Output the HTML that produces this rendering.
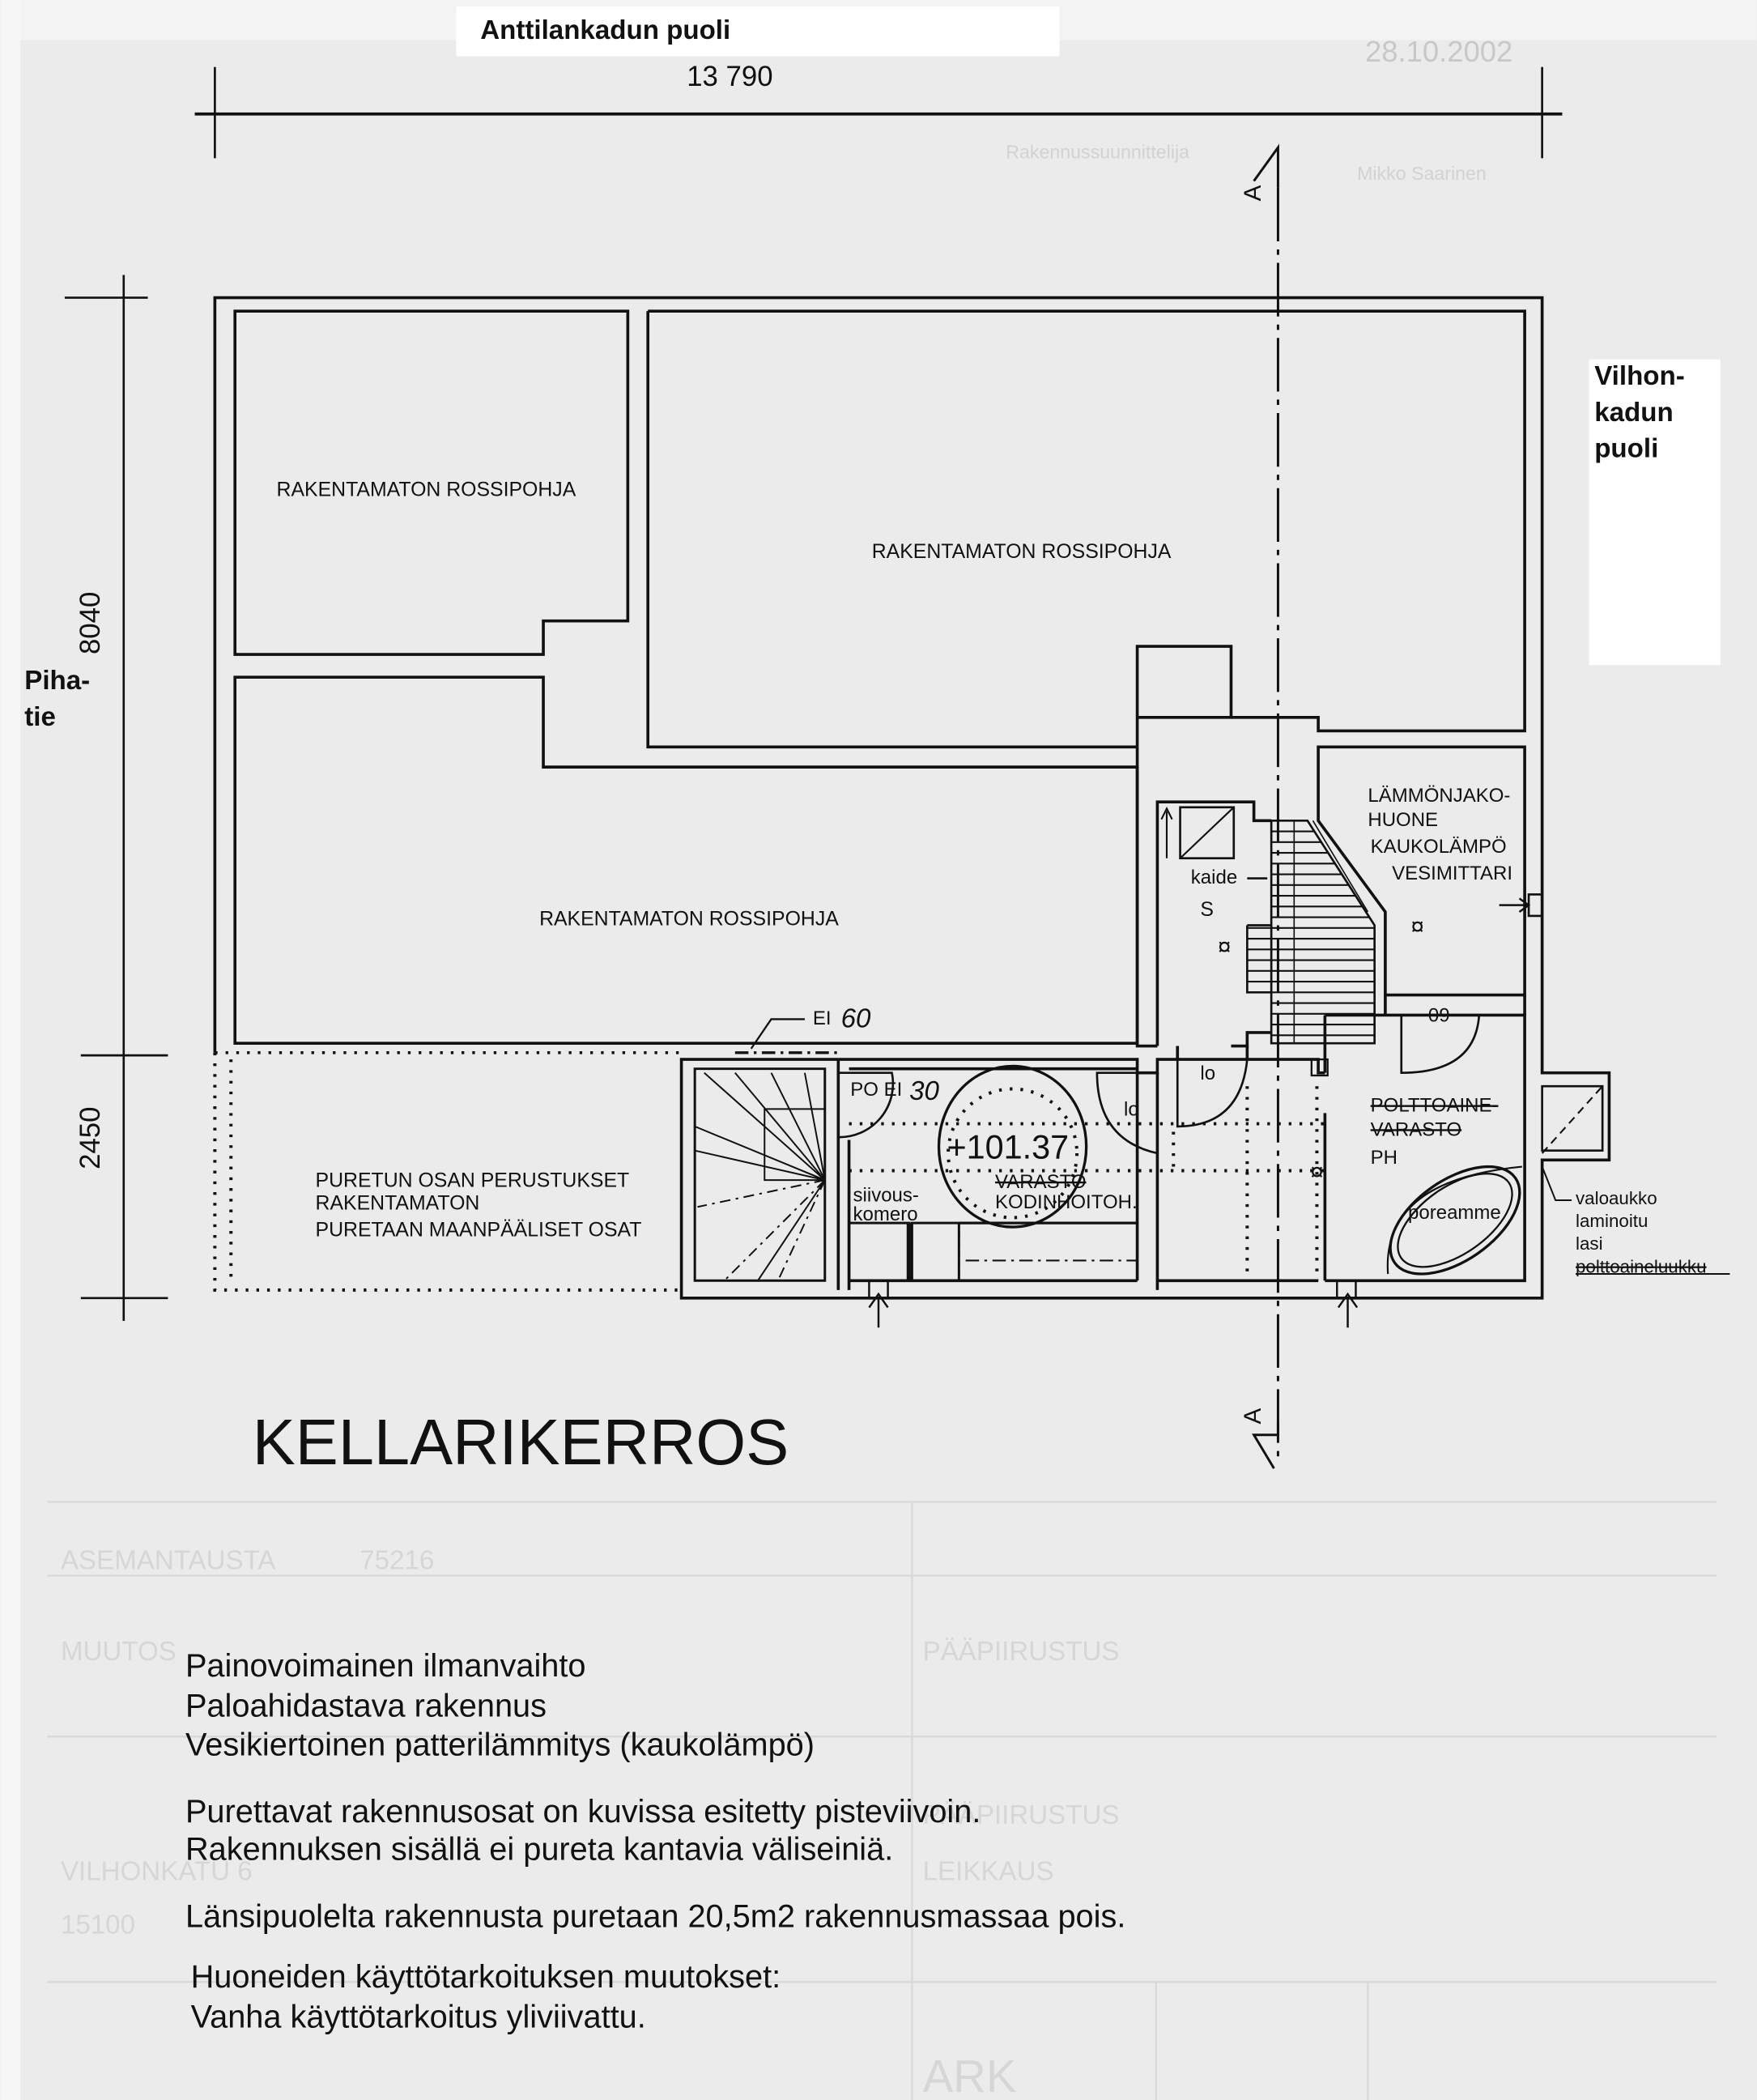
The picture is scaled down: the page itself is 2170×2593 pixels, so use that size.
<!DOCTYPE html>
<html><head><meta charset="utf-8"><style>
html,body{margin:0;padding:0;background:#ececec;}
svg{display:block}
text{font-family:"Liberation Sans",sans-serif;fill:#111}
</style></head><body>
<svg width="2170" height="2593" viewBox="0 0 1310 1566" xmlns="http://www.w3.org/2000/svg">
<rect x="0" y="0" width="1310" height="1566" fill="#ebebeb"/>
<rect x="0" y="0" width="1310" height="30" fill="#f3f3f3"/>
<rect x="0" y="0" width="15" height="1566" fill="#f6f6f6"/>
<g stroke="#d9d9d9" stroke-width="1.5" fill="none">
<line x1="35" y1="1120" x2="1280" y2="1120"/>
<line x1="35" y1="1175" x2="1280" y2="1175"/>
<line x1="35" y1="1295" x2="1280" y2="1295"/>
<line x1="35" y1="1478" x2="1280" y2="1478"/>
<line x1="680" y1="1120" x2="680" y2="1566"/>
<line x1="862" y1="1478" x2="862" y2="1566"/>
<line x1="1020" y1="1478" x2="1020" y2="1566"/>
</g>
<g font-size="20">
<text x="45" y="1170" style="fill:#d6d6d6">ASEMANTAUSTA</text>
<text x="268" y="1170" style="fill:#d6d6d6">75216</text>
<text x="45" y="1238" style="fill:#d6d6d6">MUUTOS</text>
<text x="688" y="1238" style="fill:#d6d6d6">PÄÄPIIRUSTUS</text>
<text x="688" y="1360" style="fill:#d6d6d6">PÄÄPIIRUSTUS</text>
<text x="688" y="1402" style="fill:#d6d6d6">LEIKKAUS</text>
<text x="45" y="1402" style="fill:#d6d6d6">VILHONKATU 6</text>
<text x="45" y="1442" style="fill:#d6d6d6">15100</text>
<text x="688" y="1560" style="fill:#d6d6d6;font-size:34px">ARK</text>
<text x="1018" y="46" style="fill:#c8c8c8;font-size:22px">28.10.2002</text>
<text x="750" y="118" style="fill:#d2d2d2;font-size:14px">Rakennussuunnittelija</text>
<text x="1012" y="134" style="fill:#d2d2d2;font-size:14px">Mikko Saarinen</text>
</g>
<rect x="340" y="5" width="450" height="37" fill="#fff"/>
<rect x="1185" y="268" width="98" height="228" fill="#fff"/>
<text x="358" y="29" font-size="20" font-weight="bold">Anttilankadun puoli</text>
<text x="1189" y="287" font-size="20" font-weight="bold">Vilhon-</text>
<text x="1189" y="314" font-size="20" font-weight="bold">kadun</text>
<text x="1189" y="341" font-size="20" font-weight="bold">puoli</text>
<text x="18" y="514" font-size="20" font-weight="bold">Piha-</text>
<text x="18" y="541" font-size="20" font-weight="bold">tie</text>

<g stroke="#111" fill="none" stroke-width="2.2">
<line x1="145" y1="85" x2="1165" y2="85"/>
<line x1="160" y1="50" x2="160" y2="118" stroke-width="1.6"/>
<line x1="1150" y1="50" x2="1150" y2="118" stroke-width="1.6"/>
<line x1="92" y1="205" x2="92" y2="985" stroke-width="1.6"/>
<line x1="48" y1="222" x2="110" y2="222" stroke-width="1.6"/>
<line x1="60" y1="787" x2="125" y2="787" stroke-width="1.6"/>
<line x1="60" y1="968" x2="125" y2="968" stroke-width="1.6"/>
<path d="M160 785 L160 222 L1150 222 L1150 800 L1200 800 L1200 865 L1150 865 L1150 968 L508 968 L508 790 L625 790"/>
<path d="M160 785 L160 962 L508 962" stroke-dasharray="2 6" stroke-width="2.4"/>
<line x1="172" y1="790" x2="172" y2="955" stroke-dasharray="2 6" stroke-width="2.4"/>
<line x1="160" y1="785" x2="508" y2="785" stroke-dasharray="2 6"/>
<path d="M175 232 L468 232 L468 463 L405 463 L405 488 L175 488 Z"/>
<path d="M175 505 L405 505 L405 572 L848 572 L848 778 L175 778 Z"/>
<path d="M483 232 L1137 232 L1137 545 L983 545 L983 535 L918 535"/>
<path d="M483 232 L483 557 L848 557"/>
<path d="M848 535 L848 482 L918 482 L918 535 L848 535 L848 557"/>
<path d="M983 557 L1137 557 L1137 742 L1033 742 L1033 680 L983 612 Z"/>
<rect x="1140" y="667" width="10" height="16" stroke-width="1.6"/>
<line x1="1118" y1="675" x2="1140" y2="675" stroke-width="1.5"/>
<path d="M1133 670 L1140 675 L1133 680" stroke-width="1.5"/>
<path d="M863 780 L863 598 L935 598 L935 612 L948 612"/>
<path d="M848 557 L848 780 L863 780"/>
<path d="M878 780 L878 790 M930 780 L930 790"/>
<path d="M918 780 L930 780 L930 770 L948 770"/>
<rect x="880" y="602" width="40" height="38" stroke-width="1.6"/>
<line x1="880" y1="640" x2="920" y2="602" stroke-width="1.3"/>
<line x1="870" y1="640" x2="870" y2="605" stroke-width="1.3"/>
<path d="M866 611 L870 603 L874 611" stroke-width="1.3"/>
</g>
<g stroke="#111" stroke-width="1.6" fill="none">
<path d="M948 612 L975 612 L1025 690 L1025 778 L948 778 L948 612"/>
<path d="M930 690 L948 690 M930 690 L930 740 L948 740"/>
<line x1="965" y1="612" x2="965" y2="778" stroke-width="1"/>
<path d="M979 612 L1020 680" stroke-width="1"/>
<g stroke-width="1.3">
<line x1="948" y1="620" x2="980" y2="620"/><line x1="948" y1="628" x2="985" y2="628"/>
<line x1="948" y1="636" x2="990" y2="636"/><line x1="948" y1="644" x2="995" y2="644"/>
<line x1="948" y1="652" x2="1000" y2="652"/><line x1="948" y1="660" x2="1006" y2="660"/>
<line x1="948" y1="668" x2="1011" y2="668"/><line x1="948" y1="676" x2="1016" y2="676"/>
<line x1="948" y1="684" x2="1021" y2="684"/><line x1="930" y1="692" x2="1025" y2="692"/>
<line x1="930" y1="700" x2="1025" y2="700"/><line x1="930" y1="708" x2="1025" y2="708"/>
<line x1="930" y1="716" x2="1025" y2="716"/><line x1="930" y1="724" x2="1025" y2="724"/>
<line x1="930" y1="732" x2="1025" y2="732"/><line x1="948" y1="740" x2="1025" y2="740"/>
<line x1="948" y1="748" x2="1025" y2="748"/><line x1="948" y1="756" x2="1025" y2="756"/>
<line x1="948" y1="764" x2="1025" y2="764"/><line x1="948" y1="772" x2="1025" y2="772"/>
</g>
<line x1="930" y1="655" x2="945" y2="655"/>
</g>
<g stroke="#111" stroke-width="2.2" fill="none">
<path d="M625 790 L848 790 L848 800 L863 800 L863 790 L983 790 L983 800 L988 800"/>
<path d="M518 797 L615 797 L615 955 L518 955 Z" stroke-width="1.8"/>
<path d="M625 790 L625 962 M633 850 L633 962" />
<path d="M633 797 L848 797 M633 955 L848 955 M848 800 L848 955"/>
<path d="M863 800 L863 955 L983 955 M863 955 L863 962"/>
<path d="M988 757 L988 800 M988 757 L1137 757 L1137 955 L988 955 M988 830 L988 955"/>
<path d="M1033 742 L1033 757 M1137 742 L1137 757"/>
<rect x="1150" y="810" width="45" height="48" stroke-width="1.6"/>
<line x1="1150" y1="860" x2="1195" y2="810" stroke-width="1.3" stroke-dasharray="6 4"/>
<rect x="633" y="912" width="45" height="43" stroke-width="1.8"/>
<line x1="678" y1="912" x2="678" y2="955" stroke-width="4"/>
<rect x="680" y="912" width="35" height="43" stroke-width="1.8"/>
<path d="M715 912 L848 912" stroke-width="2"/>
<path d="M715 912 L715 955" stroke-dasharray="4 3" stroke-width="1.6"/>
<line x1="720" y1="940" x2="848" y2="940" stroke-width="1.3" stroke-dasharray="10 4 2 4"/>
<path d="M648 955 L648 968 M662 955 L662 968 M997 955 L997 968 M1011 955 L1011 968" stroke-width="1.5"/>
<path d="M655 990 L655 968 M648 975 L655 965 L662 975 M1005 990 L1005 968 M998 975 L1005 965 L1012 975" stroke-width="1.5"/>
<g stroke-width="1.2">
<path d="M615 880 L525 800 M615 880 L548 800 M615 880 L575 800 M615 880 L600 800 M615 880 L518 840 M615 880 L518 858 M615 880 L570 880 L570 827 L615 827"/>
<path d="M615 880 L520 900 M615 880 L540 955 M615 880 L580 955" stroke-dasharray="8 4 2 4"/>
<path d="M615 880 L565 955"/>
</g>
<path d="M548 785 L628 785" stroke-dasharray="10 4 2 4" stroke-width="2"/>
<path d="M560 782 L575 760 L600 760" stroke-width="1.4"/>
<path d="M625 800 L665 800 A40 40 0 0 1 625 848" stroke-width="1.6"/>
<path d="M863 800 L818 800 Q818 850 863 860" stroke-width="1.6"/>
<path d="M878 790 L878 840 Q925 840 930 790" stroke-width="1.6"/>
<path d="M1045 757 L1045 800 Q1100 800 1103 757" stroke-width="1.6"/>
<rect x="978" y="790" width="12" height="12" stroke-width="1.4"/>
<ellipse cx="755" cy="855" rx="55" ry="60" stroke-width="2"/>
<g transform="rotate(-35 1085 910)">
<ellipse cx="1085" cy="910" rx="55" ry="30" stroke-width="2"/>
<ellipse cx="1085" cy="910" rx="49" ry="25" stroke-width="1.4"/>
</g>
<path d="M1035 950 Q1030 880 1135 870" stroke-width="1.3"/>
</g>
<g stroke="#111" stroke-width="2.4" fill="none" stroke-dasharray="2 6">
<line x1="633" y1="838" x2="990" y2="838"/>
<line x1="633" y1="873" x2="990" y2="873"/>
<ellipse cx="755" cy="860" rx="48" ry="48"/>
<line x1="930" y1="810" x2="930" y2="955"/>
<line x1="982" y1="810" x2="982" y2="955"/>
<line x1="875" y1="870" x2="875" y2="840"/>
</g>
<g stroke="#111" fill="none" stroke-width="1.8">
<line x1="953" y1="140" x2="953" y2="1090" stroke-dasharray="40 6 4 6"/>
<path d="M935 135 L953 110 L953 140"/>
<path d="M953 1060 L953 1070 L935 1070 L950 1095"/>
</g>
<text transform="translate(940 150) rotate(-90)" font-size="18">A</text>
<text transform="translate(940 1062) rotate(-90)" font-size="18">A</text>
<g font-size="18" text-anchor="middle"><text x="913" y="712">¤</text><text x="1057" y="697">¤</text><text x="982" y="880">¤</text></g>
<text x="512" y="64" font-size="21">13 790</text>
<text transform="translate(74 488) rotate(-90)" font-size="21">8040</text>
<text transform="translate(74 872) rotate(-90)" font-size="21">2450</text>
<g font-size="15">
<text x="206" y="370">RAKENTAMATON ROSSIPOHJA</text>
<text x="650" y="416">RAKENTAMATON ROSSIPOHJA</text>
<text x="402" y="690">RAKENTAMATON ROSSIPOHJA</text>
<text x="235" y="885">PURETUN OSAN PERUSTUKSET</text>
<text x="235" y="902">RAKENTAMATON</text>
<text x="235" y="922">PURETAAN MAANPÄÄLISET OSAT</text>
</g>
<g font-size="14.5">
<text x="1020" y="598">LÄMMÖNJAKO-</text>
<text x="1020" y="616">HUONE</text>
<text x="1022" y="636">KAUKOLÄMPÖ</text>
<text x="1038" y="656">VESIMITTARI</text>
<text x="888" y="659">kaide</text>
<text x="895" y="683" font-size="15">S</text>
<text x="606" y="764">EI</text>
<text x="634" y="817">PO EI</text>
<text x="895" y="805">lo</text>
<text x="838" y="832">lo</text>
<text x="1065" y="762">09</text>
<text x="1022" y="829" text-decoration="line-through">POLTTOAINE-</text>
<text x="1022" y="847" text-decoration="line-through">VARASTO</text>
<text x="1022" y="868">PH</text>
<text x="1050" y="909">poreamme</text>
<text x="636" y="896">siivous-</text>
<text x="636" y="910">komero</text>
<text x="742" y="886" text-decoration="line-through">VARASTO</text>
<text x="742" y="901">KODINHOITOH.</text>
<text x="1175" y="898" font-size="13.5">valoaukko</text>
<text x="1175" y="915" font-size="13.5">laminoitu</text>
<text x="1175" y="932" font-size="13.5">lasi</text>
<text x="1175" y="949" font-size="13.5" text-decoration="line-through">polttoaineluukku</text>
</g>
<path d="M1150 870 L1160 895 L1172 895 M1175 950 L1290 950" stroke="#111" stroke-width="1.2" fill="none"/>
<text x="627" y="766" font-size="20" font-style="italic">60</text>
<text x="678" y="820" font-size="20" font-style="italic">30</text>
<text x="706" y="864" font-size="25">+101.37</text>
<text x="188" y="1092" font-size="48">KELLARIKERROS</text>
<g font-size="24">
<text x="138" y="1250">Painovoimainen ilmanvaihto</text>
<text x="138" y="1280">Paloahidastava rakennus</text>
<text x="138" y="1309">Vesikiertoinen patterilämmitys (kaukolämpö)</text>
<text x="138" y="1359">Purettavat rakennusosat on kuvissa esitetty pisteviivoin.</text>
<text x="138" y="1387">Rakennuksen sisällä ei pureta kantavia väliseiniä.</text>
<text x="138" y="1437">Länsipuolelta rakennusta puretaan 20,5m2 rakennusmassaa pois.</text>
<text x="142" y="1482">Huoneiden käyttötarkoituksen muutokset:</text>
<text x="142" y="1512">Vanha käyttötarkoitus yliviivattu.</text>
</g>
</svg>
</body></html>
